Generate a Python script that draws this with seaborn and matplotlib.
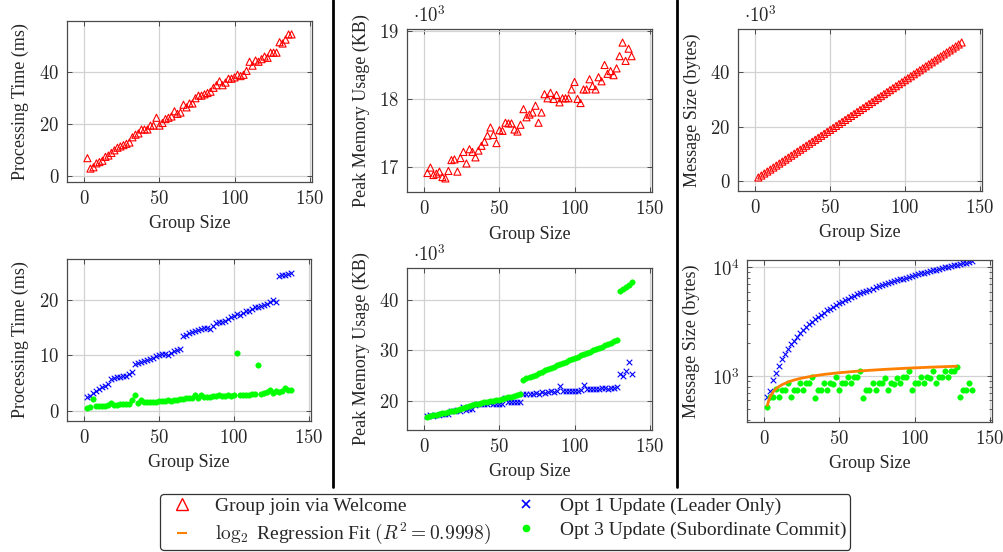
import numpy as np
import pandas as pd
import seaborn as sns
import matplotlib
matplotlib.use("Agg")
import matplotlib.pyplot as plt
from matplotlib.lines import Line2D
from matplotlib.ticker import FuncFormatter, LogLocator, NullFormatter

# group sizes measured (every second size from 2 to 138)
group_sizes = list(range(2, 140, 2))

# --- Group join via Welcome ---
join_time_ms = [7.0, 3.0, 3.5, 5.0, 5.5, 6.0, 7.5, 8.0, 9.0, 10.0,
                11.0, 11.5, 12.0, 12.5, 13.0, 15.0, 16.0, 16.5, 18.0, 18.0,
                18.0, 19.5, 19.5, 22.5, 19.5, 20.5, 22.0, 22.5, 23.0, 25.0,
                24.0, 24.5, 27.5, 26.5, 28.0, 28.0, 30.0, 31.0, 31.0, 31.5,
                32.0, 32.5, 34.0, 35.0, 36.5, 35.0, 36.0, 37.5, 37.5, 38.0,
                39.0, 38.5, 39.0, 40.5, 44.0, 42.5, 44.5, 44.0, 45.0, 46.0,
                45.5, 47.5, 47.5, 47.5, 51.5, 51.0, 52.5, 54.5, 54.5]
join_memory_kb = [16910, 16990, 16880, 16900, 16930, 16850, 16830, 16940, 17100, 17110,
                  16930, 17130, 17220, 17050, 17260, 17220, 17140, 17240, 17310, 17370,
                  17460, 17580, 17470, 17350, 17540, 17530, 17650, 17640, 17640, 17550,
                  17520, 17620, 17850, 17730, 17770, 17800, 17900, 17650, 17800, 18070,
                  18010, 18090, 18000, 18060, 17950, 18010, 18010, 18010, 18140, 18250,
                  18000, 17940, 18140, 18140, 18290, 18190, 18140, 18320, 18260, 18500,
                  18370, 18410, 18350, 18450, 18630, 18830, 18560, 18740, 18630]
join_msg_bytes = [1230, 1960, 2700, 3430, 4160, 4890, 5620, 6360, 7090, 7820,
                  8550, 9280, 10020, 10750, 11480, 12210, 12940, 13680, 14410, 15140,
                  15870, 16600, 17340, 18070, 18800, 19530, 20260, 21000, 21730, 22460,
                  23190, 23920, 24660, 25390, 26120, 26850, 27580, 28320, 29050, 29780,
                  30510, 31240, 31980, 32710, 33440, 34170, 34900, 35640, 36370, 37100,
                  37830, 38560, 39300, 40030, 40760, 41490, 42220, 42960, 43690, 44420,
                  45150, 45880, 46620, 47350, 48080, 48810, 49540, 50280, 51010]

# --- Opt 1 Update (Leader Only) ---
opt1_time_ms = [2.4, 2.7, 3.1, 3.5, 3.9, 4.2, 4.5, 4.8, 5.7, 5.9,
                6.0, 6.1, 6.2, 6.3, 6.6, 6.9, 8.4, 8.6, 8.8, 8.9,
                9.1, 9.3, 9.5, 9.9, 10.1, 10.2, 10.3, 10.1, 10.5, 10.8,
                11.0, 11.1, 13.5, 13.7, 14.1, 14.3, 14.4, 14.6, 14.7, 14.9,
                15.0, 14.7, 15.3, 15.8, 16.1, 16.0, 16.2, 16.6, 16.9, 17.1,
                17.4, 17.3, 17.7, 18.0, 18.1, 18.4, 18.7, 18.8, 18.9, 19.2,
                19.3, 19.7, 20.1, 19.6, 24.4, 24.5, 24.6, 24.8, 25.0]
opt1_memory_kb = [17000, 17100, 17000, 17200, 17200, 17300, 17300, 17400, 17900, 18000,
                  18100, 18000, 18800, 18200, 18300, 18300, 19200, 19300, 19300, 19400,
                  19400, 19500, 19400, 19300, 19300, 19400, 20600, 19700, 19700, 19700,
                  19700, 19800, 21300, 21300, 21400, 21300, 21600, 21400, 21700, 21500,
                  21800, 21900, 21800, 22000, 22900, 22000, 21900, 22000, 21900, 22000,
                  21900, 22100, 23200, 22300, 22300, 22400, 22300, 22400, 22500, 22500,
                  22400, 22500, 22600, 22700, 25400, 24900, 25900, 27600, 25300]
opt1_msg_bytes = [640, 730, 930, 1080, 1250, 1430, 1590, 1770, 1960, 2130,
                  2300, 2480, 2650, 2830, 3000, 3170, 3340, 3510, 3680, 3850,
                  4020, 4190, 4360, 4530, 4700, 4860, 5020, 5180, 5340, 5500,
                  5650, 5800, 5950, 6100, 6250, 6400, 6550, 6700, 6850, 7000,
                  7150, 7300, 7450, 7600, 7750, 7900, 8050, 8200, 8350, 8500,
                  8650, 8800, 8950, 9100, 9250, 9400, 9550, 9700, 9850, 10000,
                  10150, 10300, 10450, 10600, 10750, 10900, 11050, 11200, 11350]

# --- Opt 3 Update (Subordinate Commit) ---
opt3_time_ms = [0.55, 0.65, 2.0, 0.8, 0.8, 0.85, 0.9, 0.95, 1.3, 1.0,
                1.05, 1.1, 1.15, 1.2, 1.2, 1.9, 2.9, 1.3, 1.9, 1.6,
                1.5, 1.55, 1.6, 1.6, 1.65, 1.7, 1.7, 1.9, 1.8, 1.85,
                1.9, 2.0, 2.15, 2.2, 2.2, 2.3, 2.75, 2.2, 2.85, 2.4,
                2.4, 2.5, 2.55, 2.6, 2.8, 2.6, 2.65, 2.8, 2.6, 2.75,
                10.4, 2.75, 2.8, 2.9, 2.85, 2.95, 3.0, 8.2, 3.0, 3.2,
                3.4, 3.8, 3.2, 3.5, 3.4, 3.6, 4.0, 3.7, 3.7]
opt3_memory_kb = [16900, 17000, 17100, 17200, 17350, 17500, 17600, 17750, 17900, 18050,
                  18200, 18350, 18500, 18700, 18900, 19100, 19300, 19450, 19600, 19700,
                  19800, 19900, 20000, 20100, 20250, 20400, 20550, 20700, 20850, 21000,
                  21200, 21400, 24200, 24500, 24700, 25000, 25200, 25500, 25700, 26000,
                  26200, 26500, 26700, 27000, 27200, 27500, 27700, 28000, 28200, 28500,
                  28700, 29000, 29200, 29500, 29700, 30000, 30200, 30500, 30700, 31000,
                  31200, 31500, 31800, 32100, 41800, 42200, 42600, 43000, 43600]
opt3_msg_bytes = [522, 646, 646, 759, 646, 743, 743, 868, 646, 754,
                  754, 868, 743, 868, 868, 986, 632, 754, 754, 868,
                  754, 868, 856, 986, 743, 868, 868, 986, 868, 986,
                  986, 1112, 636, 754, 754, 868, 754, 868, 868, 972,
                  754, 868, 856, 972, 868, 986, 986, 1112, 754, 868,
                  868, 986, 868, 986, 972, 1112, 868, 986, 986, 1112,
                  986, 1112, 1112, 1218, 646, 754, 743, 868, 754]

# log2 regression fit
fit_sizes = [2, 3, 4, 6, 8, 10, 12, 16, 20, 24, 32, 40, 48, 64, 80, 96, 112, 128]
fit_msg_bytes = [540, 608, 656, 724, 772, 809, 840, 888, 925, 956,
                 1004, 1041, 1072, 1120, 1157, 1188, 1214, 1236]

RED, BLUE, GREEN, ORANGE = "#ff0000", "#0000ff", "#00ff00", "#ff7f00"

sns.set_style("whitegrid")
plt.rcParams["font.family"] = ["Liberation Serif", "DejaVu Serif"]
plt.rcParams["mathtext.fontset"] = "cm"

fig = plt.figure(figsize=(10.04, 5.52), dpi=100)
W, H = 1004, 552


def px_axes(left, top, right, bottom):
    return fig.add_axes([left / W, 1 - bottom / H, (right - left) / W, (bottom - top) / H])


def enlarge(vals):
    lo, hi = min(vals), max(vals)
    pad = 0.1 * (hi - lo)
    return lo - pad, hi + pad


math_fmt = FuncFormatter(lambda v, p: f"${v:g}$")


def style(ax, ylabel, ylab_x):
    ax.set_xlim(enlarge(group_sizes))
    ax.set_xticks([0, 50, 100, 150])
    ax.xaxis.set_major_formatter(math_fmt)
    ax.grid(True, which="major", color="#d2d2d2", lw=0.9)
    ax.set_axisbelow(True)
    for s in ax.spines.values():
        s.set_color("#4a4a4a")
        s.set_linewidth(0.9)
    ax.tick_params(which="major", direction="in", length=3.5, width=0.7, color="#4a4a4a",
                   bottom=True, left=True, top=True, right=True, labelsize=13.5, pad=5.5)
    ax.set_xlabel("Group Size", fontsize=13)
    ax.xaxis.set_label_coords(0.5, -0.206)
    ax.set_ylabel(ylabel, fontsize=13)
    ax.yaxis.set_label_coords(ylab_x, 0.5)


def scaled(ax):
    ax.text(0.025, 1.02, r"$\cdot 10^{3}$", transform=ax.transAxes,
            ha="left", va="bottom", fontsize=13.5)


def tri(ax, y):
    sns.scatterplot(x=group_sizes, y=y, ax=ax, marker="^", s=26, color="none",
                    edgecolor=RED, linewidth=0.8, legend=False)


def cross(ax, y):
    sns.scatterplot(x=group_sizes, y=y, ax=ax, marker="x", s=16, color=BLUE,
                    linewidth=0.8, legend=False)


def dot(ax, y):
    sns.scatterplot(x=group_sizes, y=y, ax=ax, marker="o", s=16, color=GREEN,
                    edgecolor=GREEN, linewidth=0.3, legend=False)


# top row: group join via Welcome
ax = px_axes(67, 21, 312, 182)
tri(ax, join_time_ms)
style(ax, "Processing Time (ms)", -0.155)
ax.set_ylim(enlarge(join_time_ms))
ax.set_yticks([0, 20, 40])
ax.yaxis.set_major_formatter(math_fmt)

ax = px_axes(407, 29, 652, 192)
mem_k = [v / 1000 for v in join_memory_kb]
tri(ax, mem_k)
style(ax, "Peak Memory Usage (KB)", -0.150)
ax.set_ylim(enlarge(mem_k))
ax.set_yticks([17, 18, 19])
ax.yaxis.set_major_formatter(math_fmt)
scaled(ax)

ax = px_axes(738, 29, 982, 191)
msg_k = [v / 1000 for v in join_msg_bytes]
tri(ax, msg_k)
style(ax, "Message Size (bytes)", -0.150)
ax.set_ylim(enlarge(msg_k))
ax.set_yticks([0, 20, 40])
ax.yaxis.set_major_formatter(math_fmt)
scaled(ax)

# bottom row: update variants
ax = px_axes(67, 259, 311, 421)
cross(ax, opt1_time_ms)
dot(ax, opt3_time_ms)
style(ax, "Processing Time (ms)", -0.155)
ax.set_ylim(enlarge(opt1_time_ms + opt3_time_ms))
ax.set_yticks([0, 10, 20])
ax.yaxis.set_major_formatter(math_fmt)

ax = px_axes(407, 268, 652, 430)
m1 = [v / 1000 for v in opt1_memory_kb]
m3 = [v / 1000 for v in opt3_memory_kb]
cross(ax, m1)
dot(ax, m3)
style(ax, "Peak Memory Usage (KB)", -0.150)
ax.set_ylim(enlarge(m1 + m3))
ax.set_yticks([20, 30, 40])
ax.yaxis.set_major_formatter(math_fmt)
scaled(ax)

ax = px_axes(747, 260, 992, 422)
cross(ax, opt1_msg_bytes)
sns.lineplot(x=fit_sizes, y=fit_msg_bytes, ax=ax, color=ORANGE, lw=2.0, legend=False)
dot(ax, opt3_msg_bytes)
style(ax, "Message Size (bytes)", -0.190)
ax.set_yscale("log")
ax.set_ylim(380, 11700)
ax.set_yticks([1e3, 1e4])
ax.yaxis.set_major_formatter(FuncFormatter(lambda v, p: rf"$10^{{{int(round(np.log10(v)))}}}$"))
ax.yaxis.set_minor_locator(LogLocator(base=10, subs=range(2, 10)))
ax.yaxis.set_minor_formatter(NullFormatter())
ax.tick_params(which="minor", direction="in", length=2, width=0.6, color="#4a4a4a",
               left=True, right=True)
ax.grid(False, which="minor")

# column separators
for xs in (333, 677):
    fig.add_artist(Line2D([xs / W, xs / W], [1, 1 - 487 / H], transform=fig.transFigure,
                          color="black", lw=2.0))

handles = [
    Line2D([], [], ls="none", marker="^", ms=9, mfc="none", mec=RED, mew=1.0),
    Line2D([], [], ls="none", marker="_", ms=7, mec=ORANGE, mew=1.5),
    Line2D([], [], ls="none", marker="x", ms=6, mec=BLUE, mew=1.2),
    Line2D([], [], ls="none", marker="o", ms=4.5, mfc=GREEN, mec=GREEN),
]
labels = ["Group join via Welcome",
          r"$\log_2$ Regression Fit $(R^2 = 0.9998)$",
          "Opt 1 Update (Leader Only)",
          "Opt 3 Update (Subordinate Commit)"]
leg = fig.legend(handles, labels, ncol=2, loc="center", bbox_to_anchor=(0.503, 1 - 522 / H),
                 fontsize=14, frameon=True, fancybox=True, framealpha=1,
                 edgecolor="#333333", borderpad=0.2, handlelength=1.85,
                 handletextpad=0.8, columnspacing=0.9, labelspacing=0.3)
leg.get_frame().set_linewidth(0.9)

fig.savefig("out.png", dpi=100)
